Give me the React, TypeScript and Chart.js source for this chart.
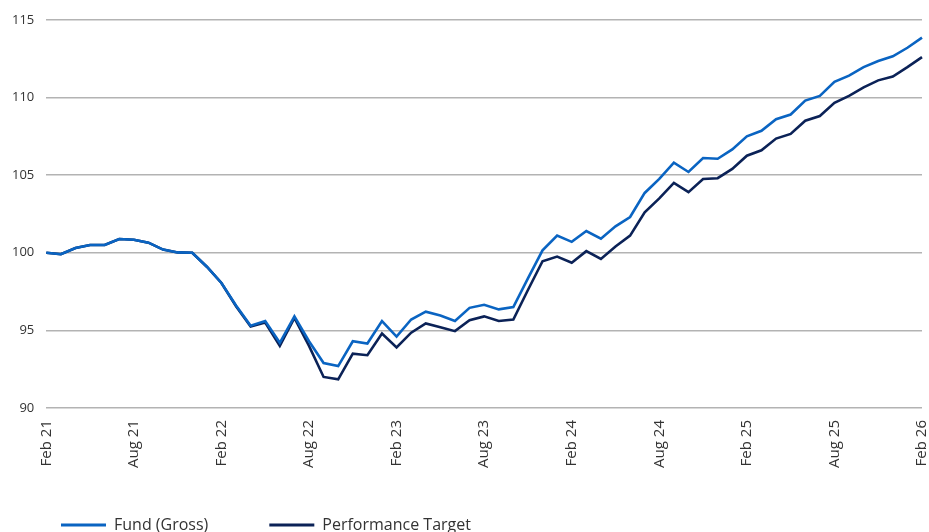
import React, { useEffect, useRef } from "react";
import { Chart, registerables } from "chart.js";

Chart.register(...registerables);

const months: string[] = [
  "Feb 21", "Mar 21", "Apr 21", "May 21", "Jun 21", "Jul 21", "Aug 21", "Sep 21", "Oct 21", "Nov 21", "Dec 21", "Jan 22",
  "Feb 22", "Mar 22", "Apr 22", "May 22", "Jun 22", "Jul 22", "Aug 22", "Sep 22", "Oct 22", "Nov 22", "Dec 22", "Jan 23",
  "Feb 23", "Mar 23", "Apr 23", "May 23", "Jun 23", "Jul 23", "Aug 23", "Sep 23", "Oct 23", "Nov 23", "Dec 23", "Jan 24",
  "Feb 24", "Mar 24", "Apr 24", "May 24", "Jun 24", "Jul 24", "Aug 24", "Sep 24", "Oct 24", "Nov 24", "Dec 24", "Jan 25",
  "Feb 25", "Mar 25", "Apr 25", "May 25", "Jun 25", "Jul 25", "Aug 25", "Sep 25", "Oct 25", "Nov 25", "Dec 25", "Jan 26",
  "Feb 26",
];

const fundGross: number[] = [
  100.0, 99.9, 100.3, 100.5, 100.5, 100.88, 100.84, 100.65, 100.2, 100.02, 100.0, 99.1,
  98.05, 96.6, 95.3, 95.6, 94.2, 95.9, 94.3, 92.9, 92.7, 94.3, 94.15, 95.6,
  94.6, 95.7, 96.2, 95.95, 95.6, 96.45, 96.65, 96.35, 96.5, 98.35, 100.15, 101.1,
  100.7, 101.4, 100.9, 101.7, 102.3, 103.85, 104.75, 105.8, 105.2, 106.1, 106.05, 106.65,
  107.5, 107.85, 108.6, 108.9, 109.8, 110.1, 111.0, 111.4, 111.95, 112.35, 112.65, 113.2,
  113.85,
];

const performanceTarget: number[] = [
  100.0, 99.9, 100.3, 100.5, 100.5, 100.88, 100.84, 100.65, 100.2, 100.02, 100.0, 99.1,
  98.05, 96.55, 95.25, 95.5, 94.0, 95.8, 94.0, 92.0, 91.85, 93.5, 93.4, 94.8,
  93.9, 94.85, 95.45, 95.2, 94.95, 95.65, 95.9, 95.6, 95.7, 97.6, 99.45, 99.75,
  99.35, 100.1, 99.6, 100.4, 101.1, 102.6, 103.5, 104.5, 103.9, 104.75, 104.8, 105.4,
  106.25, 106.6, 107.35, 107.65, 108.5, 108.8, 109.65, 110.1, 110.65, 111.1, 111.35, 111.95,
  112.6,
];

const yTicks: number[] = [90, 95, 100, 105, 110, 115];

const FUND_COLOR = "#0a64c2";
const TARGET_COLOR = "#0b2257";
const FONT = "'Open Sans', sans-serif";

const legendShift = {
  id: "legendShift",
  beforeDraw(chart: any) {
    const lg = chart.legend;
    if (lg) {
      lg.top = 456;
      lg.bottom = chart.height + 40;
    }
  },
};

export default function App() {
  const canvasRef = useRef<HTMLCanvasElement | null>(null);

  useEffect(() => {
    const canvas = canvasRef.current;
    if (!canvas) return;
    const chart = new Chart(canvas, {
      type: "line",
      data: {
        labels: months,
        datasets: [
          {
            label: "Fund (Gross)",
            data: fundGross,
            borderColor: FUND_COLOR,
            backgroundColor: FUND_COLOR,
            borderWidth: 2.6,
            pointRadius: 0,
            tension: 0,
          },
          {
            label: "Performance Target",
            data: performanceTarget,
            borderColor: TARGET_COLOR,
            backgroundColor: TARGET_COLOR,
            borderWidth: 2.6,
            pointRadius: 0,
            tension: 0,
          },
        ],
      },
      plugins: [legendShift],
      options: {
        animation: false,
        responsive: false,
        maintainAspectRatio: false,
        layout: { padding: { left: 0, right: 7, top: 12, bottom: 0 } },
        plugins: {
          tooltip: { enabled: false },
          legend: {
            position: "bottom",
            align: "start",
            maxHeight: 62,
            labels: {
              boxWidth: 45,
              boxHeight: 3,
              padding: 61,
              color: "#333333",
              font: { family: FONT, size: 16 },
              generateLabels: (ch: any) => {
                const items = Chart.defaults.plugins.legend.labels.generateLabels(ch);
                items.forEach((it: any) => {
                  it.lineWidth = 0;
                });
                return items;
              },
            },
          },
        },
        scales: {
          x: {
            grid: { display: false, drawTicks: false },
            border: { display: false },
            afterFit: (axis: any) => {
              axis.height = 62;
              axis.paddingRight = 0;
              axis.paddingLeft = 0;
            },
            ticks: {
              autoSkip: false,
              maxRotation: 90,
              minRotation: 90,
              padding: 12,
              color: "#333333",
              font: { family: FONT, size: 15 },
              callback: (_v: any, i: number) => (i % 6 === 0 ? months[i] : ""),
            },
          },
          y: {
            min: 90,
            max: 115,
            afterBuildTicks: (axis: any) => {
              axis.ticks = yTicks.map((v) => ({ value: v }));
            },
            grid: { color: "#b3b3b3", lineWidth: 1.5, drawTicks: false },
            border: { display: false },
            ticks: {
              padding: 12,
              color: "#333333",
              font: { family: FONT, size: 13 },
            },
          },
        },
      },
    });
    return () => chart.destroy();
  }, []);

  return (
    <div style={{ position: "fixed", left: 0, top: 0, width: 929, height: 532, background: "#ffffff" }}>
      <canvas ref={canvasRef} width={929} height={532} style={{ width: 929, height: 532 }} />
    </div>
  );
}
